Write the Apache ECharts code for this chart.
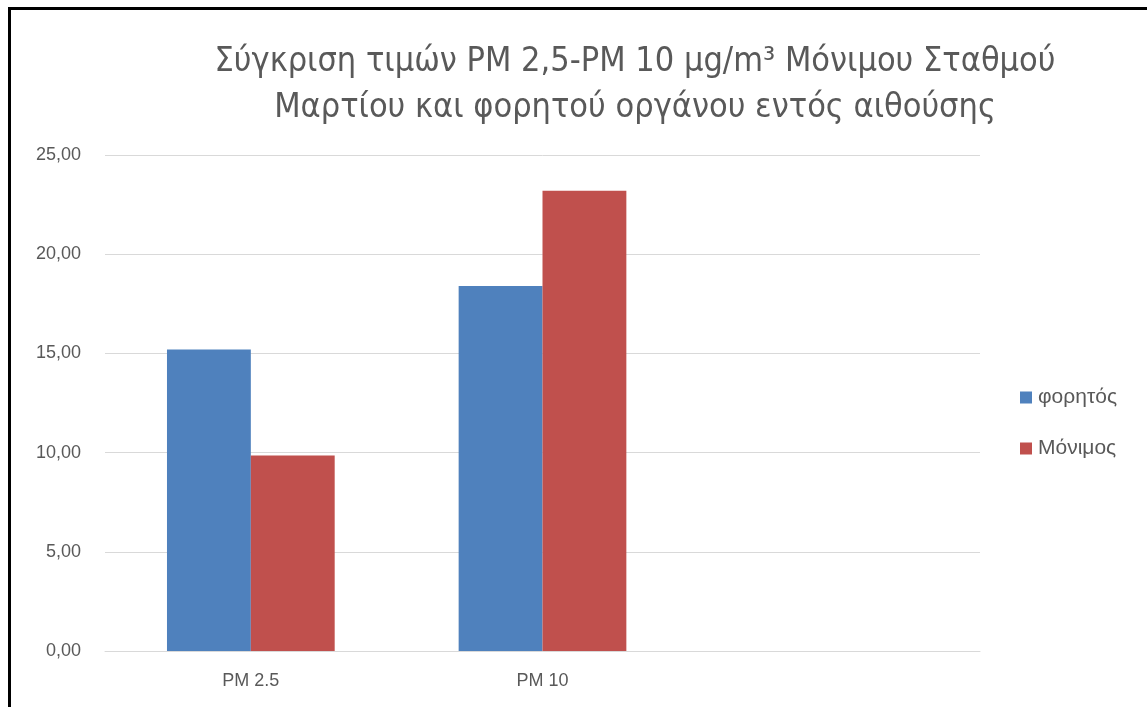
<!DOCTYPE html>
<html>
<head>
<meta charset="utf-8">
<script src="https://cdn.jsdelivr.net/npm/echarts@6/dist/echarts.min.js"></script>
<style>
  html, body { margin: 0; padding: 0; background: #fff; }
  #chart { width: 1147px; height: 707px; }
</style>
</head>
<body>
<div id="chart"></div>
<script>
// data
const categories = ["PM 2.5", "PM 10", ""];
const seriesNames = ["φορητός", "Μόνιμος"];
const portable = [15.2, 18.4, null];
const fixed = [9.85, 23.2, null];
const colors = ["#4f81bd", "#c0504d"];

const chart = echarts.init(document.getElementById("chart"));

const labelColor = "#595959";

chart.setOption({
    animation: false,
    backgroundColor: "#fff",
    title: {
        text: "Σύγκριση τιμών PM 2,5-PM 10 μg/m³ Μόνιμου Σταθμού\nΜαρτίου και φορητού οργάνου εντός αιθούσης",
        left: 630,
        top: 34,
        textAlign: "center",
        textStyle: {
            fontFamily: "DejaVu Sans Condensed",
            fontWeight: "normal",
            fontSize: 34,
            lineHeight: 46,
            color: labelColor
        }
    },
    legend: {
        orient: "vertical",
        left: 1015,
        top: 382,
        itemWidth: 12,
        itemHeight: 12,
        itemGap: 30,
        icon: "rect",
        textStyle: {
            fontFamily: "Liberation Sans",
            fontSize: 21,
            color: labelColor,
            padding: [0, 0, 0, 1]
        },
        data: seriesNames
    },
    grid: {
        left: 105,
        right: 167,
        top: 155,
        bottom: 56,
        containLabel: false
    },
    xAxis: {
        type: "category",
        data: categories,
        axisTick: { show: false },
        axisLine: { lineStyle: { color: "#d9d9d9", width: 1 } },
        axisLabel: {
            margin: 21,
            fontFamily: "Liberation Sans",
            fontSize: 18,
            color: labelColor
        }
    },
    yAxis: {
        type: "value",
        min: 0,
        max: 25,
        interval: 5,
        axisLine: { show: false },
        axisTick: { show: false },
        splitLine: { lineStyle: { color: "#d9d9d9", width: 1 } },
        axisLabel: {
            margin: 24,
            fontFamily: "Liberation Sans",
            fontSize: 18,
            color: labelColor,
            formatter: v => v.toFixed(2).replace(".", ",")
        }
    },
    series: [
        {
            name: seriesNames[0],
            type: "bar",
            data: portable,
            barGap: "0%",
            barCategoryGap: "42.5%",
            itemStyle: { color: colors[0] }
        },
        {
            name: seriesNames[1],
            type: "bar",
            data: fixed,
            barGap: "0%",
            barCategoryGap: "42.5%",
            itemStyle: { color: colors[1] }
        }
    ],
    graphic: [{
        type: "rect",
        shape: { x: 9.5, y: 8.5, width: 1300, height: 900 },
        style: { fill: null, stroke: "#000", lineWidth: 3 },
        silent: true
    }]
});
</script>
</body>
</html>
